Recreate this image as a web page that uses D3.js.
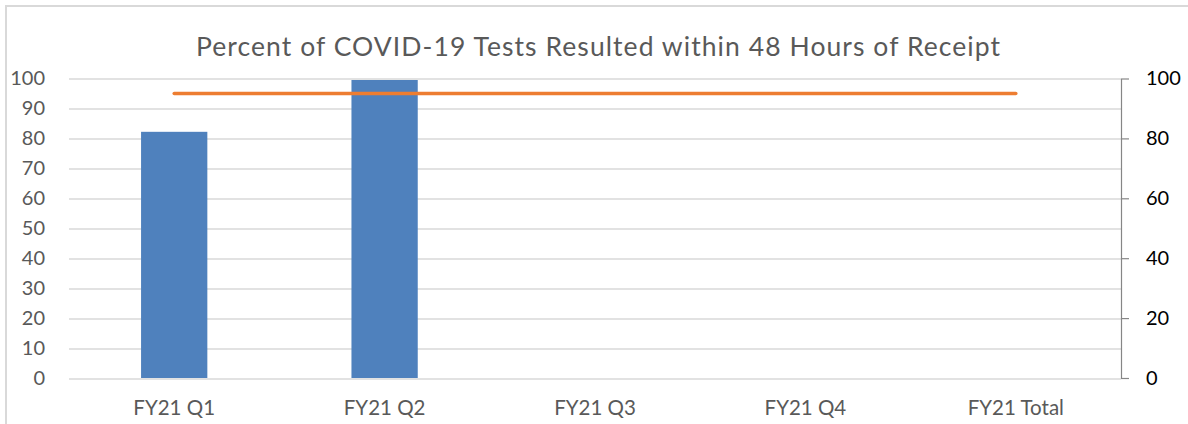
<!DOCTYPE html>
<html>
<head>
<meta charset="utf-8">
<script src="https://cdn.jsdelivr.net/npm/d3@7"></script>
<style>
  body { margin: 0; background: #fff; }
  text { font-family: Lato, "Open Sans", sans-serif; }
</style>
</head>
<body>
<div id="chart"></div>
<script>
// chart values
const categories = ['FY21 Q1', 'FY21 Q2', 'FY21 Q3', 'FY21 Q4', 'FY21 Total'];
const percentResulted = [82.2, 99.5, null, null, null];
const targetLine = [95, 95, 95, 95, 95];
const leftTicks = [0, 10, 20, 30, 40, 50, 60, 70, 80, 90, 100];
const rightTicks = [0, 20, 40, 60, 80, 100];
const title = 'Percent of COVID-19 Tests Resulted within 48 Hours of Receipt';

const W = 1188, H = 424;
const margin = { top: 78.5, right: 67, bottom: 46, left: 69 };
const width = W - margin.left - margin.right;
const height = H - margin.top - margin.bottom;

const svg = d3.select('#chart')
  .append('svg')
    .attr('width', W)
    .attr('height', H);

// outer chart border (only top/left visible)
svg.append('path')
  .attr('d', `M6,${H + 5}V6H${W + 5}`)
  .attr('fill', 'none')
  .attr('stroke', '#d9d9d9')
  .attr('stroke-width', 2);

const g = svg.append('g')
  .attr('transform', `translate(${margin.left},${margin.top})`);

const x = d3.scaleBand()
  .domain(categories)
  .range([0, width])
  .paddingInner(0.685)
  .paddingOuter(0.3425);

const yLeft = d3.scaleLinear().domain([0, 100]).range([height, 0]);
const yRight = d3.scaleLinear().domain([0, 100]).range([height, 0]);

// gridlines
g.append('g')
  .selectAll('line')
  .data(leftTicks)
  .join('line')
    .attr('x1', 0)
    .attr('x2', width)
    .attr('y1', d => Math.round(yLeft(d)) + 0.5)
    .attr('y2', d => Math.round(yLeft(d)) + 0.5)
    .attr('stroke', '#d9d9d9')
    .attr('stroke-width', 1.5);

// left axis labels
g.append('g')
  .call(d3.axisLeft(yLeft).tickValues(leftTicks).tickSize(0).tickPadding(24))
  .call(a => a.select('.domain').remove())
  .attr('font-family', 'Lato, "Open Sans", sans-serif')
  .attr('font-size', 20)
  .attr('color', '#595959');

// right axis
g.append('g')
  .attr('transform', `translate(${width},0)`)
  .call(d3.axisRight(yRight).tickValues(rightTicks).tickSizeInner(8).tickSizeOuter(0).tickPadding(17))
  .attr('font-family', 'Lato, "Open Sans", sans-serif')
  .attr('font-size', 20)
  .call(a => a.select('.domain').attr('stroke', '#868686').attr('stroke-width', 1.2))
  .call(a => a.selectAll('.tick line').attr('stroke', '#868686').attr('stroke-width', 1.2))
  .call(a => a.selectAll('.tick text').attr('fill', '#000'));

// bars
g.selectAll('rect.bar')
  .data(categories.map((c, i) => ({ c, v: percentResulted[i] })).filter(d => d.v != null))
  .join('rect')
    .attr('class', 'bar')
    .attr('x', d => x(d.c))
    .attr('y', d => yLeft(d.v))
    .attr('width', x.bandwidth())
    .attr('height', d => height - yLeft(d.v))
    .attr('fill', '#4f81bd');

// target line
const line = d3.line()
  .x((d, i) => x(categories[i]) + x.bandwidth() / 2)
  .y(d => yRight(d));

g.append('path')
  .datum(targetLine)
  .attr('d', line)
  .attr('fill', 'none')
  .attr('stroke', '#ed7d31')
  .attr('stroke-width', 3.5)
  .attr('stroke-linecap', 'round');

// x labels
g.append('g')
  .attr('transform', `translate(0,${height})`)
  .call(d3.axisBottom(x).tickSize(0).tickPadding(22))
  .call(a => a.select('.domain').remove())
  .attr('font-family', 'Lato, "Open Sans", sans-serif')
  .attr('font-size', 20.5)
  .attr('color', '#595959');

// title
svg.append('text')
  .attr('x', 598)
  .attr('y', 56)
  .attr('text-anchor', 'middle')
  .attr('font-size', 26.5)
  .attr('fill', '#595959')
  .attr('textLength', 804)
  .attr('lengthAdjust', 'spacing')
  .text(title);
</script>
</body>
</html>
